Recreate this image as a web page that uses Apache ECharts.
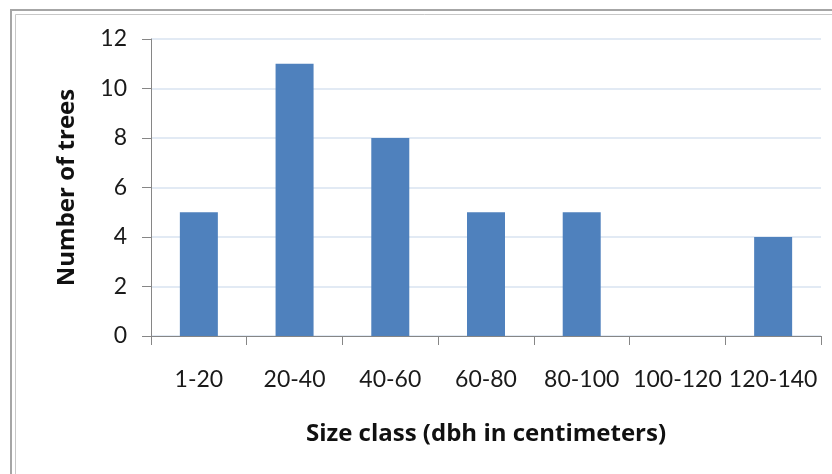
<!DOCTYPE html>
<html><head><meta charset="utf-8">
<script src="https://cdn.jsdelivr.net/npm/echarts@6/dist/echarts.min.js"></script>
<style>html,body{margin:0;padding:0;background:#fff}#c{width:832px;height:474px}</style>
</head><body><div id="c"></div>
<script>
var categories = ['1-20','20-40','40-60','60-80','80-100','100-120','120-140'];
var treeCounts = [5, 11, 8, 5, 5, 0, 4];
var yTicks = [0, 2, 4, 6, 8, 10, 12];
var font = 'Lato, "Open Sans", sans-serif';
var titleFont = '"Open Sans", Lato, sans-serif';
var chart = echarts.init(document.getElementById('c'));
chart.setOption({
  backgroundColor: '#fff',
  animation: false,
  graphic: [
    {type:'rect', shape:{x:11,y:10,width:900,height:600}, style:{fill:'none', stroke:'#a6a6a6', lineWidth:2}, silent:true},
    {type:'rect', shape:{x:15.5,y:14.5,width:900,height:600}, style:{fill:'none', stroke:'#c8c8c8', lineWidth:1}, silent:true}
  ],
  grid: {left:151, right:11, top:39, bottom:138, containLabel:false},
  xAxis: {
    type:'category', data:categories,
    axisLine:{lineStyle:{color:'#868686'}},
    axisTick:{show:true, length:9, alignWithLabel:false, lineStyle:{color:'#868686'}},
    axisLabel:{color:'#1a1a1a', fontSize:23, fontFamily:font, margin:32, interval:0},
    name:'Size class (dbh in centimeters)', nameLocation:'middle', nameGap:86,
    nameTextStyle:{color:'#111', fontSize:24, fontWeight:'bold', fontFamily:titleFont}
  },
  yAxis: {
    type:'value', min:0, max:12, interval:2,
    axisLine:{show:true, lineStyle:{color:'#868686'}},
    axisTick:{show:true, length:9, lineStyle:{color:'#868686'}},
    axisLabel:{color:'#1a1a1a', fontSize:23, fontFamily:font, margin:24,
      formatter:function(v){return yTicks.indexOf(v)>=0 ? String(v) : '';}},
    splitLine:{lineStyle:{color:'#d9e3f0', width:1.5}},
    name:'Number of trees', nameLocation:'middle', nameGap:72, nameRotate:90,
    nameTextStyle:{color:'#111', fontSize:24, fontWeight:'bold', fontFamily:titleFont}
  },
  series: [{
    type:'bar', data:treeCounts, barWidth:38,
    itemStyle:{color:'#4f81bd'}
  }]
});
</script></body></html>
